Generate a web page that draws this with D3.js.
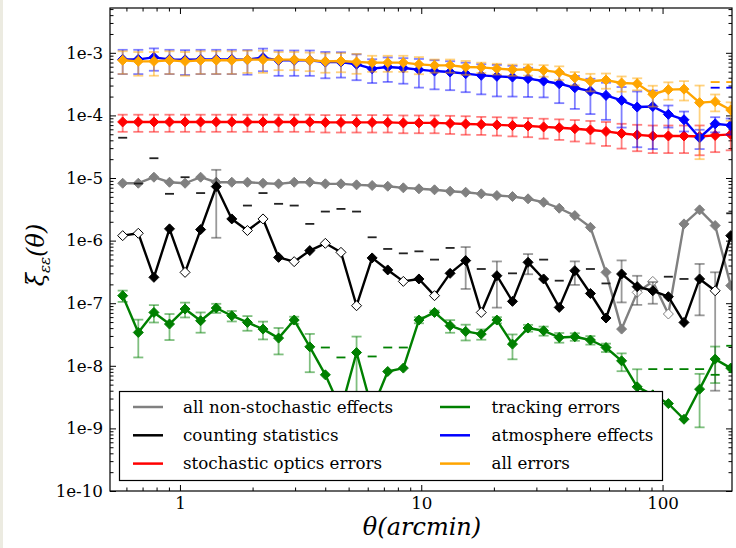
<!DOCTYPE html>
<html>
<head>
<meta charset="utf-8">
<script src="https://cdn.jsdelivr.net/npm/d3@7"></script>
<style>
  html, body { margin: 0; padding: 0; background: #fff; }
  svg { display: block; }
  text { font-family: "DejaVu Serif", serif; }
</style>
</head>
<body>
<svg id="chart" width="736" height="548"></svg>
<script>
// Angular separation bins (arcmin)
const theta = [0.579, 0.672, 0.780, 0.905, 1.050, 1.218, 1.414, 1.640, 1.904, 2.209,
  2.563, 2.975, 3.452, 4.005, 4.648, 5.394, 6.259, 7.263, 8.428, 9.780,
  11.35, 13.17, 15.28, 17.73, 20.58, 23.88, 27.71, 32.15, 37.31, 43.30,
  50.24, 58.30, 67.65, 78.50, 91.10, 105.7, 122.7, 142.4, 165.2, 191.7];

// Correlation of the ellipticity errors for each error source (negative = open marker)
const nonStochastic = [8.25e-6, 8.25e-6, 1.03e-5, 8.56e-6, 8.25e-6, 1.03e-5, 8.56e-6, 8.56e-6, 8.56e-6, 8.25e-6,
  8.07e-6, 8.56e-6, 8.56e-6, 8.07e-6, 8.07e-6, 7.78e-6, 7.59e-6, 7.39e-6, 6.97e-6, 6.72e-6,
  6.48e-6, 6.15e-6, 5.93e-6, 5.59e-6, 5.25e-6, 5.06e-6, 4.65e-6, 4.10e-6, 3.29e-6, 2.51e-6,
  1.63e-6, 3.11e-7, 3.86e-8, -1.49e-7, -2.23e-7, -6.72e-8, 1.85e-6, 3.10e-6, 1.74e-6, 1.91e-7];

const counting = [-1.20e-6, -1.31e-6, 2.59e-7, 1.54e-6, -3.11e-7, 1.50e-6, 7.31e-6, 2.22e-6, -1.45e-6, -2.22e-6,
  5.40e-7, -4.61e-7, 6.92e-7, -9.05e-7, -6.50e-7, -9.12e-8, 5.29e-7, 3.40e-7, -2.23e-7, 2.44e-7,
  -1.32e-7, 3.00e-7, 4.79e-7, -7.12e-8, 2.75e-7, 1.07e-7, 4.50e-7, 2.44e-7, 8.57e-8, 3.31e-7,
  1.43e-7, 5.80e-8, 2.93e-7, 1.84e-7, 1.58e-7, 1.27e-7, 4.93e-8, 2.44e-7, -1.58e-7, 1.20e-6];
const countingErr = [null, null, null, null, null, null, 6.2e-6, null, null, null,
  null, null, null, null, null, null, null, null, null, null,
  null, null, 3.1e-7, null, 1.9e-7, null, 1.6e-7, null, null, 1.35e-7,
  null, null, 1.9e-7, 0.9e-7, 0.6e-7, null, null, 1.8e-7, 1.54e-7, null];
const countingRef = [4.4e-5, 8.17e-6, 2.07e-5, 5.59e-6, 1.03e-5, 5.75e-6, null, null, 3.63e-6, 5.75e-6,
  3.87e-6, 3.63e-6, 1.85e-6, 2.91e-6, 3.21e-6, 2.91e-6, 1.13e-6, 7.36e-7, 6.26e-7, 6.74e-7,
  4.97e-7, 7.64e-7, null, 3.52e-7, null, 3.00e-7, null, 4.97e-7, 2.29e-7, null,
  3.52e-7, 2.07e-7, null, null, null, 2.65e-7, 2.44e-7, null, null, 2.73e-6];

const optics = [7.87e-5, 7.87e-5, 7.87e-5, 7.87e-5, 7.87e-5, 7.87e-5, 7.87e-5, 7.87e-5, 7.87e-5, 7.87e-5,
  7.87e-5, 7.87e-5, 7.87e-5, 7.73e-5, 7.73e-5, 7.73e-5, 7.73e-5, 7.73e-5, 7.59e-5, 7.59e-5,
  7.59e-5, 7.45e-5, 7.31e-5, 7.18e-5, 7.05e-5, 6.92e-5, 6.79e-5, 6.55e-5, 6.36e-5, 6.13e-5,
  5.86e-5, 5.55e-5, 5.15e-5, 4.88e-5, 4.70e-5, 4.70e-5, 4.70e-5, 4.61e-5, 4.79e-5, 4.97e-5];
const opticsErr = [2.4e-5, 2.4e-5, 2.4e-5, 2.4e-5, 2.4e-5, 2.4e-5, 2.4e-5, 2.4e-5, 2.4e-5, 2.4e-5,
  2.4e-5, 2.4e-5, 2.4e-5, 2.4e-5, 2.4e-5, 2.4e-5, 2.4e-5, 2.4e-5, 2.4e-5, 2.4e-5,
  2.4e-5, 2.4e-5, 2.4e-5, 2.3e-5, 2.3e-5, 2.3e-5, 2.3e-5, 2.3e-5, 2.3e-5, 2.3e-5,
  2.3e-5, 2.3e-5, 2.2e-5, 2.2e-5, 2.2e-5, 2.2e-5, 2.2e-5, 2.3e-5, 2.2e-5, 2.2e-5];

const tracking = [1.32e-7, 3.41e-8, 7.12e-8, 4.65e-8, 8.07e-8, 5.25e-8, 8.38e-8, 6.31e-8, 4.93e-8, 3.86e-8,
  2.77e-8, 5.38e-8, 2.01e-8, 7.18e-9, 2.0e-9, 1.63e-8, 2.0e-9, 8.11e-9, 9.19e-9, 5.38e-8,
  7.12e-8, 4.37e-8, 3.54e-8, 3.21e-8, 5.38e-8, 2.22e-8, 4.01e-8, 3.63e-8, 2.84e-8, 2.91e-8,
  2.58e-8, 1.96e-8, 1.20e-8, 4.61e-9, 3.44e-9, 2.49e-9, 1.40e-9, 4.24e-9, 1.28e-8, 9.19e-9];
const trackingErr = [2.7e-8, 2.05e-8, 2.2e-8, 2.07e-8, 2.15e-8, 1.87e-8, 1.4e-8, 1.2e-8, 1.3e-8, 1.22e-8,
  1.25e-8, 0.7e-8, 1.22e-8, null, null, 1.3e-8, null, null, null, 0.6e-8,
  0.5e-8, 1.0e-8, 1.0e-8, 0.6e-8, 0.6e-8, 0.95e-8, 0.5e-8, 0.6e-8, 0.5e-8, 0.4e-8,
  0.4e-8, 0.3e-8, 0.38e-8, 4.2e-9, null, null, null, 3.2e-9, 0.75e-8, null];
const trackingRef = [null, null, null, null, null, null, null, null, null, null,
  null, null, null, 1.96e-8, 1.36e-8, null, 1.41e-8, 1.96e-8, 1.96e-8, null,
  null, null, null, null, null, null, null, null, null, null,
  null, null, null, null, 8.85e-9, 8.85e-9, 8.85e-9, 8.85e-9, 7.18e-9, 2.09e-8];

const atmosphere = [7.87e-4, 7.87e-4, 8.47e-4, 7.87e-4, 7.73e-4, 7.87e-4, 7.87e-4, 7.87e-4, 7.78e-4, 8.38e-4,
  7.59e-4, 7.59e-4, 7.59e-4, 7.12e-4, 7.12e-4, 6.55e-4, 5.59e-4, 5.93e-4, 5.71e-4, 5.38e-4,
  5.11e-4, 4.93e-4, 4.65e-4, 4.37e-4, 4.21e-4, 4.10e-4, 3.87e-4, 3.54e-4, 3.21e-4, 2.77e-4,
  2.45e-4, 2.09e-4, 1.74e-4, 1.36e-4, 1.39e-4, 1.04e-4, 8.53e-5, 4.40e-5, 7.36e-5, 6.92e-5];
const atmosphereErr = [3.3e-4, 3.3e-4, 3.3e-4, 3.3e-4, 3.3e-4, 3.3e-4, 3.3e-4, 3.3e-4, 3.3e-4, 3.3e-4,
  3.3e-4, 3.3e-4, 3.3e-4, 3.2e-4, 3.1e-4, 2.9e-4, 2.3e-4, 2.5e-4, 2.5e-4, 2.6e-4,
  2.5e-4, 2.4e-4, 2.3e-4, 2.2e-4, 2.2e-4, 2.1e-4, 1.9e-4, 1.6e-4, 1.64e-4, 1.5e-4,
  1.4e-4, 1.24e-4, 1.1e-4, 1.05e-4, 1.1e-4, 4e-5, 3e-5, 1.5e-5, 2e-5, 2e-5];
const atmosphereRef = [null, null, null, null, null, null, null, null, null, null,
  null, null, null, null, null, null, null, null, null, null,
  null, null, null, null, null, null, null, null, null, null,
  null, null, null, null, null, null, null, null, 2.77e-4, 2.77e-4];

const allErrors = [7.59e-4, 7.31e-4, 7.31e-4, 7.59e-4, 7.31e-4, 7.59e-4, 7.59e-4, 7.59e-4, 7.78e-4, 7.78e-4,
  7.78e-4, 7.78e-4, 7.59e-4, 7.31e-4, 7.39e-4, 7.12e-4, 6.97e-4, 6.97e-4, 6.97e-4, 6.55e-4,
  6.31e-4, 6.31e-4, 5.93e-4, 5.86e-4, 5.59e-4, 5.38e-4, 5.43e-4, 5.25e-4, 4.88e-4, 3.98e-4,
  3.52e-4, 3.67e-4, 3.29e-4, 3.22e-4, 2.18e-4, 2.58e-4, 2.63e-4, 1.60e-4, 1.66e-4, 1.22e-4];
const allErrorsErr = [3.0e-4, 3.0e-4, 3.0e-4, 3.0e-4, 3.0e-4, 3.0e-4, 3.0e-4, 3.0e-4, 3.0e-4, 3.0e-4,
  2.5e-4, 2.5e-4, 2.5e-4, 2.5e-4, 2.5e-4, 2.5e-4, 2.0e-4, 2.0e-4, 2.0e-4, 2.0e-4,
  1.5e-4, 1.5e-4, 1.5e-4, 1.1e-4, 1.1e-4, 1.1e-4, 1.1e-4, 1.1e-4, 1.2e-4, 0.95e-4,
  1.1e-4, 1.0e-4, 0.9e-4, 0.7e-4, 0.8e-4, 0.8e-4, 0.9e-4, 1.4e-4, 0.5e-4, 0.4e-4];
const allErrorsRef = [null, null, null, null, null, null, null, null, null, null,
  null, null, null, null, null, null, null, null, null, null,
  null, null, null, null, null, null, null, null, null, null,
  null, null, null, null, null, null, null, null, 3.41e-4, 3.41e-4];

const xTickLabels = [1, 10, 100];
const yTickExponents = [-10, -9, -8, -7, -6, -5, -4, -3];

const series = [
  { name: "all non-stochastic effects", color: "#808080", values: nonStochastic, err: null, ref: null, errColor: "#808080" },
  { name: "counting statistics", color: "#000000", values: counting, err: countingErr, ref: countingRef, errColor: "#333333", refColor: "#222222" },
  { name: "stochastic optics errors", color: "#ff0000", values: optics, err: opticsErr, ref: null, errColor: "#ff0000" },
  { name: "tracking errors", color: "#008000", values: tracking, err: trackingErr, ref: trackingRef, errColor: "#008000", refColor: "#008000" },
  { name: "atmosphere effects", color: "#0000ff", values: atmosphere, err: atmosphereErr, ref: atmosphereRef, errColor: "#0000ff", refColor: "#0000ff" },
  { name: "all errors", color: "#ffa500", values: allErrors, err: allErrorsErr, ref: allErrorsRef, errColor: "#ffa500", refColor: "#ffa500" }
];

// ---- layout ----
const plot = { left: 110, right: 732, top: 8, bottom: 491 };
const x = d3.scaleLog().domain([0.513, 194]).range([plot.left, plot.right]);
const y = d3.scaleLog().domain([1e-10, 5.2e-3]).range([plot.bottom, plot.top]);

const svg = d3.select("#chart");
svg.append("rect").attr("x", 0).attr("y", 0).attr("width", 736).attr("height", 548).attr("fill", "#fff");
svg.append("rect").attr("x", 0).attr("y", 0).attr("width", 3).attr("height", 548).attr("fill", "#ecebe1");

svg.append("defs").append("clipPath").attr("id", "plotClip")
  .append("rect").attr("x", plot.left).attr("y", plot.top)
  .attr("width", plot.right - plot.left).attr("height", plot.bottom - plot.top);

// ---- ticks (pointing inward on all four sides) ----
const yMajor = yTickExponents.map(e => Math.pow(10, e));
const yMinor = [];
for (let e = -10; e <= -3; e++) for (let m = 2; m <= 9; m++) {
  const v = m * Math.pow(10, e);
  if (v < y.domain()[1]) yMinor.push(v);
}
const xMinor = [];
for (let e = -1; e <= 2; e++) for (let m = 2; m <= 9; m++) {
  const v = m * Math.pow(10, e);
  if (v > x.domain()[0] && v < x.domain()[1]) xMinor.push(v);
}

function styleAxis(g) {
  g.select(".domain").remove();
  g.selectAll(".tick line").attr("stroke", "#000").attr("stroke-width", 1);
  g.selectAll(".tick text").attr("font-family", "DejaVu Serif").attr("font-size", 16.7).attr("fill", "#000");
}

svg.append("g").attr("transform", `translate(${plot.left},0)`)
  .call(d3.axisLeft(y).tickValues(yMajor).tickSizeInner(-6).tickSizeOuter(0).tickPadding(7)
    .tickFormat(d => "1e" + Math.round(Math.log10(d))))
  .call(styleAxis);
svg.append("g").attr("transform", `translate(${plot.left},0)`)
  .call(d3.axisLeft(y).tickValues(yMinor).tickSizeInner(-3.5).tickSizeOuter(0).tickFormat(""))
  .call(styleAxis);
svg.append("g").attr("transform", `translate(${plot.right},0)`)
  .call(d3.axisRight(y).tickValues(yMajor).tickSizeInner(-6).tickSizeOuter(0).tickFormat(""))
  .call(styleAxis);
svg.append("g").attr("transform", `translate(${plot.right},0)`)
  .call(d3.axisRight(y).tickValues(yMinor).tickSizeInner(-3.5).tickSizeOuter(0).tickFormat(""))
  .call(styleAxis);

svg.append("g").attr("transform", `translate(0,${plot.bottom})`)
  .call(d3.axisBottom(x).tickValues(xTickLabels).tickSizeInner(-6).tickSizeOuter(0).tickPadding(6)
    .tickFormat(d3.format("d")))
  .call(styleAxis);
svg.append("g").attr("transform", `translate(0,${plot.bottom})`)
  .call(d3.axisBottom(x).tickValues(xMinor).tickSizeInner(-3.5).tickSizeOuter(0).tickFormat(""))
  .call(styleAxis);
svg.append("g").attr("transform", `translate(0,${plot.top})`)
  .call(d3.axisTop(x).tickValues(xTickLabels).tickSizeInner(-6).tickSizeOuter(0).tickFormat(""))
  .call(styleAxis);
svg.append("g").attr("transform", `translate(0,${plot.top})`)
  .call(d3.axisTop(x).tickValues(xMinor).tickSizeInner(-3.5).tickSizeOuter(0).tickFormat(""))
  .call(styleAxis);

// ---- data ----
const layer = svg.append("g").attr("clip-path", "url(#plotClip)");
const diamond = r => `M0,${-r}L${r},0L0,${r}L${-r},0Z`;
const lineGen = d3.line().x(d => x(d.t)).y(d => y(Math.abs(d.v)));

series.forEach(s => {
  const pts = theta.map((t, i) => ({ t, v: s.values[i], e: s.err ? s.err[i] : null, r: s.ref ? s.ref[i] : null }));
  const g = layer.append("g");

  // error bars with caps
  const eb = g.append("g").attr("stroke", s.errColor).attr("stroke-opacity", 0.5).attr("stroke-width", 1.8);
  pts.filter(d => d.e).forEach(d => {
    const v = Math.abs(d.v);
    const lo = Math.max(v - d.e, 1e-12);
    const hi = v + d.e;
    const cx = x(d.t);
    eb.append("line").attr("x1", cx).attr("x2", cx).attr("y1", y(hi)).attr("y2", y(lo));
    eb.append("line").attr("x1", cx - 5).attr("x2", cx + 5).attr("y1", y(hi)).attr("y2", y(hi));
    eb.append("line").attr("x1", cx - 5).attr("x2", cx + 5).attr("y1", y(lo)).attr("y2", y(lo));
  });

  // reference level markers
  pts.filter(d => d.r).forEach(d => {
    g.append("line").attr("x1", x(d.t) - 4.5).attr("x2", x(d.t) + 4.5)
      .attr("y1", y(d.r)).attr("y2", y(d.r))
      .attr("stroke", s.refColor).attr("stroke-width", 1.8);
  });

  g.append("path").datum(pts).attr("d", lineGen)
    .attr("fill", "none").attr("stroke", s.color).attr("stroke-width", 2.4).attr("stroke-linejoin", "round");

  g.selectAll("path.mk").data(pts).join("path").attr("class", "mk")
    .attr("transform", d => `translate(${x(d.t)},${y(Math.abs(d.v))})`)
    .attr("d", diamond(5))
    .attr("fill", d => d.v < 0 ? "#fff" : s.color)
    .attr("stroke", s.color).attr("stroke-width", 1);
});

// frame
svg.append("rect").attr("x", plot.left).attr("y", plot.top)
  .attr("width", plot.right - plot.left).attr("height", plot.bottom - plot.top)
  .attr("fill", "none").attr("stroke", "#000").attr("stroke-width", 1.2);

// ---- legend ----
const legend = svg.append("g");
legend.append("rect").attr("x", 119.5).attr("y", 391.5).attr("width", 543).attr("height", 89)
  .attr("fill", "#fff").attr("stroke", "#000").attr("stroke-width", 1.2);
series.forEach((s, i) => {
  const col = Math.floor(i / 3), row = i % 3;
  const lx = col === 0 ? 133 : 440;
  const tx = col === 0 ? 183 : 491.5;
  const ly = 407 + row * 28.3;
  legend.append("line").attr("x1", lx).attr("x2", lx + 30).attr("y1", ly).attr("y2", ly)
    .attr("stroke", s.color).attr("stroke-width", 2.5);
  legend.append("text").attr("x", tx).attr("y", ly).attr("dy", "0.35em")
    .attr("font-size", 16.7).attr("fill", "#000").text(s.name);
});

// ---- axis titles ----
svg.append("text").attr("x", 422).attr("y", 535).attr("text-anchor", "middle")
  .attr("font-size", 24).attr("font-style", "italic").text("θ(arcmin)");

const yl = svg.append("text").attr("transform", "translate(44,255) rotate(-90)")
  .attr("text-anchor", "middle").attr("font-size", 24).attr("font-style", "italic");
yl.append("tspan").text("ξ");
yl.append("tspan").attr("font-size", 15).attr("dy", 6).text("εε");
yl.append("tspan").attr("dy", -6).text("(θ)");
</script>
</body>
</html>
